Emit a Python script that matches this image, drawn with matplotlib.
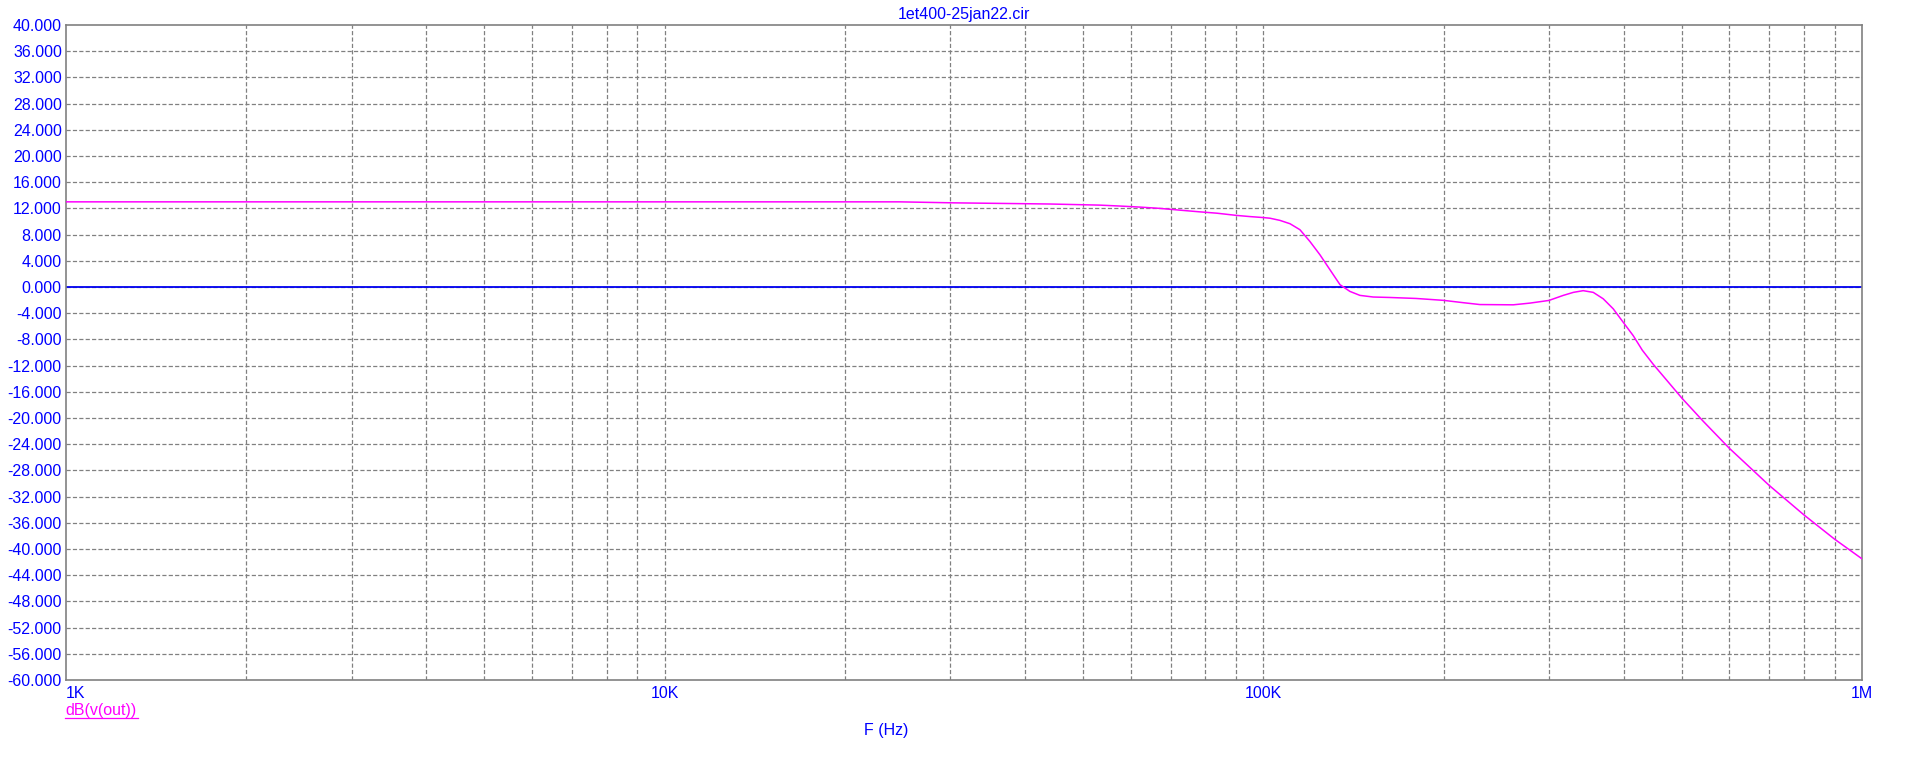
import matplotlib
matplotlib.use("Agg")
import matplotlib.pyplot as plt
from matplotlib.lines import Line2D
from matplotlib.ticker import FixedLocator, NullFormatter

plt.rcParams['font.family'] = ['Liberation Sans', 'DejaVu Sans']
plt.rcParams['lines.scale_dashes'] = False

# ---- data ----
title = "1et400-25jan22.cir"
trace_name = "dB(v(out))"
x_label = "F (Hz)"

freq_hz = [1e3, 2e3, 5e3, 1e4, 2e4, 24.7e3, 30.3e3, 44e3, 53.3e3, 57.6e3,
           62.2e3, 67.2e3, 72.6e3, 78.4e3, 83.6e3, 90.2e3, 95e3, 100e3,
           102.6e3, 106.6e3, 110.8e3, 115.1e3, 119.6e3, 124.3e3, 129.2e3,
           134.3e3, 139.5e3, 145e3, 152.6e3, 162.7e3, 180e3, 200e3, 216e3,
           230e3, 261.5e3, 278.8e3, 300e3, 317e3, 329.5e3, 342.2e3, 355.7e3,
           369.6e3, 384.1e3, 400e3, 414.9e3, 429.5e3, 448e3, 500e3, 543e3,
           600e3, 700e3, 800e3, 900e3, 1e6]
gain_db = [13.0, 13.0, 13.0, 13.0, 13.0, 13.0, 12.85, 12.67, 12.5, 12.36,
           12.2, 12.0, 11.73, 11.47, 11.27, 10.93, 10.75, 10.6,
           10.5, 10.17, 9.66, 8.75, 6.96, 4.93, 2.64,
           0.35, -0.67, -1.28, -1.53, -1.6, -1.75, -2.04, -2.4,
           -2.68, -2.72, -2.46, -2.05, -1.28, -0.82, -0.56, -0.82,
           -1.8, -3.33, -5.5, -7.44, -9.64, -11.8, -16.95, -20.5,
           -24.6, -30.3, -34.8, -38.5, -41.5]

x_ticks = [1e3, 1e4, 1e5, 1e6]
x_tick_labels = ["1K", "10K", "100K", "1M"]
y_ticks = list(range(-60, 41, 4))
y_tick_labels = ["%.3f" % v for v in y_ticks]

W, H = 1907, 757
fig = plt.figure(figsize=(W / 100, H / 100), dpi=100)
ax = fig.add_axes([66 / W, 1 - 680 / H, (1862 - 66) / W, (680 - 25) / H])

blue = "#0000FF"
mag = "#FF00FF"
grey = "#808080"

ax.set_xscale("log")
ax.set_xlim(1e3, 1e6)
ax.set_ylim(-60, 40)

grid_kw = dict(color=grey, lw=0.9, dashes=(3.0, 1.6), zorder=1)
minor = [m * 10 ** e for e in range(3, 6) for m in range(2, 10)]
for xv in minor + x_ticks[1:-1]:
    ax.axvline(xv, **grid_kw)
for yv in y_ticks[1:-1]:
    ax.axhline(yv, **grid_kw)

ax.axhline(0, color="#0000F0", lw=1.3, zorder=2)
ax.plot(freq_hz, gain_db, color=mag, lw=1.1, zorder=3)

ax.xaxis.set_major_locator(FixedLocator(x_ticks))
ax.xaxis.set_minor_locator(FixedLocator(minor))
ax.xaxis.set_minor_formatter(NullFormatter())
ax.set_xticklabels(x_tick_labels)
ax.set_yticks(y_ticks)
ax.set_yticklabels(y_tick_labels)
ax.tick_params(axis="both", which="both", length=0, labelsize=11.5, labelcolor=blue)
ax.tick_params(axis="y", pad=3)
ax.tick_params(axis="x", pad=4)
ax.get_xticklabels()[0].set_ha("left")

for s in ax.spines.values():
    s.set_color(grey)
    s.set_linewidth(1.2)

fig.text((66 + 1862) / 2 / W, 1 - 14 / H, title, color=blue, fontsize=11.5,
         ha="center", va="center")
fig.text(886 / W, 1 - 730 / H, x_label, color=blue, fontsize=11.5,
         ha="center", va="center")
fig.text(65 / W, 1 - 711 / H, trace_name, color=mag, fontsize=11.5,
         ha="left", va="center")
fig.add_artist(Line2D([65 / W, 138 / W], [1 - 718 / H, 1 - 718 / H],
                      color=mag, lw=0.9, transform=fig.transFigure))

fig.savefig("out.png", dpi=100, facecolor="white")
